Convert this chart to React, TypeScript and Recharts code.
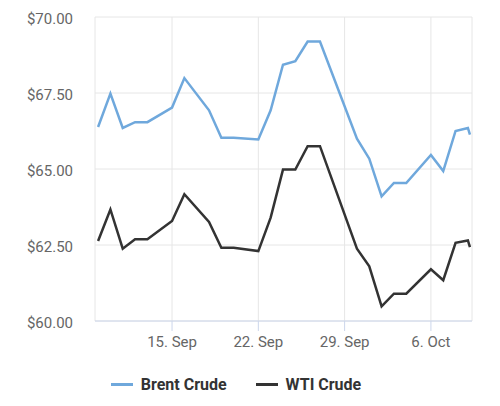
import React from "react";
import {
  LineChart,
  Line,
  XAxis,
  YAxis,
  CartesianGrid,
  Legend,
} from "recharts";

// trading dates (last one is an intraday tick)
const dates = [
  "2025-09-09", "2025-09-10", "2025-09-11", "2025-09-12", "2025-09-13",
  "2025-09-15", "2025-09-16", "2025-09-18", "2025-09-19", "2025-09-20",
  "2025-09-22", "2025-09-23", "2025-09-24", "2025-09-25", "2025-09-26",
  "2025-09-27", "2025-09-30", "2025-10-01", "2025-10-02", "2025-10-03",
  "2025-10-04", "2025-10-06", "2025-10-07", "2025-10-08", "2025-10-09",
  "2025-10-09T04:00Z",
];

const brent = [
  66.38, 67.48, 66.35, 66.54, 66.54, 67.02, 67.99, 66.93, 66.03, 66.03,
  65.97, 66.93, 68.43, 68.55, 69.19, 69.19, 66.0, 65.34, 64.1, 64.54,
  64.54, 65.46, 64.93, 66.25, 66.35, 66.13,
];

const wti = [
  62.63, 63.67, 62.38, 62.69, 62.69, 63.29, 64.17, 63.26, 62.41, 62.41,
  62.3, 63.4, 64.98, 64.98, 65.75, 65.75, 62.38, 61.8, 60.48, 60.9,
  60.9, 61.7, 61.34, 62.57, 62.65, 62.43,
];

const xTicks = ["2025-09-15", "2025-09-22", "2025-09-29", "2025-10-06"];
const yTicks = [60, 62.5, 65, 67.5, 70];

const seriesNames = ["Brent Crude", "WTI Crude"];
const seriesColors = ["#6fa8dc", "#333333"];

const MONTHS = ["Jan", "Feb", "Mar", "Apr", "May", "Jun", "Jul", "Aug", "Sep", "Oct", "Nov", "Dec"];

const data = dates.map((d, i) => ({
  t: Date.parse(d),
  brent: brent[i],
  wti: wti[i],
}));

const xDomain = [Date.UTC(2025, 8, 8, 18), Date.UTC(2025, 9, 9, 8)];

const fmtDate = (v: number) => {
  const d = new Date(v);
  return `${d.getUTCDate()}. ${MONTHS[d.getUTCMonth()]}`;
};

const FONT = "Roboto, sans-serif";

function LegendContent() {
  return (
    <div
      style={{
        height: 50,
        paddingTop: 6,
        boxSizing: "border-box",
        display: "flex",
        justifyContent: "center",
        alignItems: "center",
        fontFamily: FONT,
        fontSize: 16,
        fontWeight: 700,
        color: "#333",
      }}
    >
      {seriesNames.map((name, i) => (
        <div
          key={name}
          style={{ display: "flex", alignItems: "center", marginLeft: i ? 29 : 0 }}
        >
          <span
            style={{
              display: "inline-block",
              width: 22,
              height: 3,
              background: seriesColors[i],
              marginRight: 8,
            }}
          />
          {name}
        </div>
      ))}
    </div>
  );
}

export default function App() {
  return (
    <div style={{ width: 500, height: 406, background: "#fff" }}>
      <style>{`body{margin:0}`}</style>
      <LineChart
        width={500}
        height={406}
        data={data}
        margin={{ top: 17, right: 28, left: 0, bottom: 0 }}
      >
        <CartesianGrid stroke="#e6e6e6" vertical={true} />
        <XAxis
          dataKey="t"
          type="number"
          domain={xDomain}
          ticks={xTicks.map((d) => Date.parse(d))}
          tickFormatter={fmtDate}
          height={35}
          tickSize={10}
          tickMargin={5}
          stroke="#ccd6eb"
          tick={{ fill: "#666", fontSize: 15, fontFamily: FONT }}
        />
        <YAxis
          domain={[60, 70]}
          ticks={yTicks}
          width={95}
          axisLine={false}
          tickLine={false}
          tickSize={6}
          tickMargin={16}
          tickFormatter={(v: number) => `$${v.toFixed(2)}`}
          tick={{ fill: "#666", fontSize: 15, fontFamily: FONT, dy: 2 }}
        />
        <Legend verticalAlign="bottom" height={50} content={<LegendContent />} />
        <Line
          dataKey="brent"
          name={seriesNames[0]}
          stroke={seriesColors[0]}
          strokeWidth={2.5}
          dot={false}
          activeDot={false}
          isAnimationActive={false}
        />
        <Line
          dataKey="wti"
          name={seriesNames[1]}
          stroke={seriesColors[1]}
          strokeWidth={2.5}
          dot={false}
          activeDot={false}
          isAnimationActive={false}
        />
      </LineChart>
    </div>
  );
}
